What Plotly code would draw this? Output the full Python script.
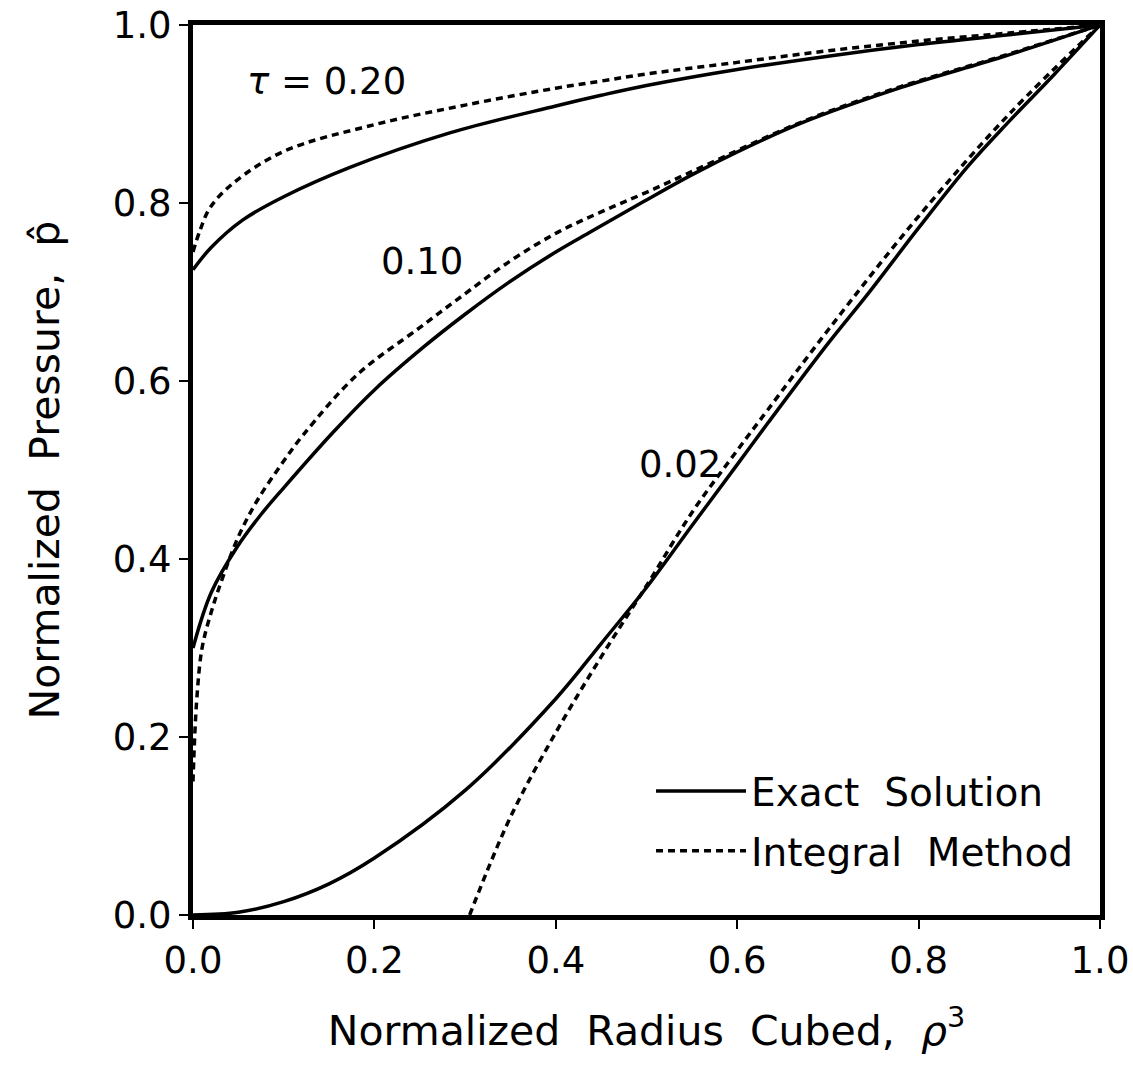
import plotly.graph_objects as go

# tau = 0.20
x_ex_20 = [0.0, 0.02, 0.055, 0.1, 0.173, 0.284, 0.4, 0.45, 0.5, 0.6, 0.7, 0.8, 0.9, 1.0]
y_ex_20 = [0.725, 0.750, 0.781, 0.807, 0.840, 0.879, 0.909, 0.921, 0.932, 0.950, 0.965, 0.978, 0.989, 1.0]
x_in_20 = [0.0, 0.008, 0.019, 0.044, 0.1, 0.2, 0.3, 0.4, 0.45, 0.5, 0.6, 0.7, 0.8, 0.9, 1.0]
y_in_20 = [0.745, 0.770, 0.795, 0.822, 0.858, 0.888, 0.910, 0.929, 0.937, 0.945, 0.958, 0.971, 0.982, 0.991, 1.0]

# tau = 0.10
x_ex_10 = [0.0, 0.02, 0.049, 0.075, 0.1, 0.155, 0.2, 0.254, 0.3, 0.347, 0.4, 0.439, 0.494, 0.56, 0.671, 0.781, 0.892, 1.0]
y_ex_10 = [0.300, 0.362, 0.414, 0.450, 0.480, 0.543, 0.590, 0.638, 0.675, 0.710, 0.745, 0.768, 0.800, 0.837, 0.890, 0.930, 0.964, 1.0]
x_in_10 = [0.0, 0.004, 0.01, 0.02, 0.033, 0.05, 0.071, 0.1, 0.122, 0.181, 0.25, 0.292, 0.35, 0.402, 0.45, 0.5, 0.56, 0.671, 0.781, 0.892, 1.0]
y_in_10 = [0.150, 0.240, 0.300, 0.340, 0.380, 0.425, 0.466, 0.510, 0.540, 0.607, 0.660, 0.692, 0.735, 0.767, 0.790, 0.812, 0.840, 0.891, 0.931, 0.965, 1.0]

# tau = 0.02
x_ex_02 = [0.0, 0.05, 0.1, 0.15, 0.2, 0.3, 0.4, 0.45, 0.5, 0.549, 0.6, 0.634, 0.7, 0.745, 0.8, 0.855, 0.9, 0.95, 1.0]
y_ex_02 = [0.0, 0.003, 0.015, 0.035, 0.064, 0.140, 0.243, 0.305, 0.368, 0.436, 0.506, 0.553, 0.642, 0.699, 0.772, 0.842, 0.892, 0.945, 1.0]
x_in_02 = [0.305, 0.35, 0.4, 0.45, 0.5, 0.55, 0.6, 0.634, 0.7, 0.8, 0.9, 1.0]
y_in_02 = [0.0, 0.110, 0.205, 0.290, 0.370, 0.452, 0.522, 0.568, 0.657, 0.785, 0.900, 1.0]

labels = ["<i>τ</i> = 0.20", "0.10", "0.02"]
label_x = [0.147, 0.252, 0.537]
label_y = [0.936, 0.734, 0.506]

FONT = "DejaVu Sans, Liberation Sans, Arial, sans-serif"
FS = 37
TFS = 41
LW = 3.5
DASH = "7px,5px"
SP = "\u00a0\u00a0"

fig = go.Figure()
solid = dict(color="black", width=LW)
dashed = dict(color="black", width=LW, dash=DASH)

fig.add_trace(go.Scatter(x=x_ex_20, y=y_ex_20, mode="lines", line=solid, line_shape="spline",
                         name="Exact" + SP + "Solution", legendgroup="ex", showlegend=True))
fig.add_trace(go.Scatter(x=x_in_20, y=y_in_20, mode="lines", line=dashed, line_shape="spline",
                         name="Integral" + SP + "Method", legendgroup="in", showlegend=True))
fig.add_trace(go.Scatter(x=x_ex_10, y=y_ex_10, mode="lines", line=solid, line_shape="spline",
                         name="Exact Solution", legendgroup="ex", showlegend=False))
fig.add_trace(go.Scatter(x=x_in_10, y=y_in_10, mode="lines", line=dashed, line_shape="spline",
                         name="Integral Method", legendgroup="in", showlegend=False))
fig.add_trace(go.Scatter(x=x_ex_02, y=y_ex_02, mode="lines", line=solid, line_shape="spline",
                         name="Exact Solution", legendgroup="ex", showlegend=False))
fig.add_trace(go.Scatter(x=x_in_02, y=y_in_02, mode="lines", line=dashed, line_shape="spline",
                         name="Integral Method", legendgroup="in", showlegend=False))

for t, lx, ly in zip(labels, label_x, label_y):
    fig.add_annotation(x=lx, y=ly, text=t, showarrow=False, xref="x", yref="y",
                       font=dict(family=FONT, size=FS, color="black"))

axis_common = dict(
    range=[0, 1], showline=True, linewidth=5, linecolor="black", mirror=True,
    ticks="outside", ticklen=9, tickwidth=2, tickcolor="black",
    showgrid=False, zeroline=False, tickformat=".1f", dtick=0.2, tick0=0,
    tickfont=dict(family=FONT, size=FS, color="black"), automargin=False,
)

fig.update_layout(
    width=1133, height=1069,
    margin=dict(l=193, r=33, t=25, b=154),
    paper_bgcolor="white", plot_bgcolor="white",
    showlegend=True,
    legend=dict(x=0.505, y=0.175, xanchor="left", yanchor="top",
                bgcolor="rgba(0,0,0,0)", font=dict(family=FONT, size=39, color="black"),
                itemwidth=90, tracegroupgap=6),
    xaxis=dict(axis_common, title=dict(text="Normalized" + SP + "Radius" + SP + "Cubed," + SP + "<i>ρ</i><sup>3</sup>",
                                       font=dict(family=FONT, size=TFS, color="black"), standoff=36)),
    yaxis=dict(axis_common, title=dict(text="Normalized" + SP + "Pressure," + SP + "p\u0302",
                                       font=dict(family=FONT, size=TFS, color="black"), standoff=42)),
)

fig.write_html("out.html")
